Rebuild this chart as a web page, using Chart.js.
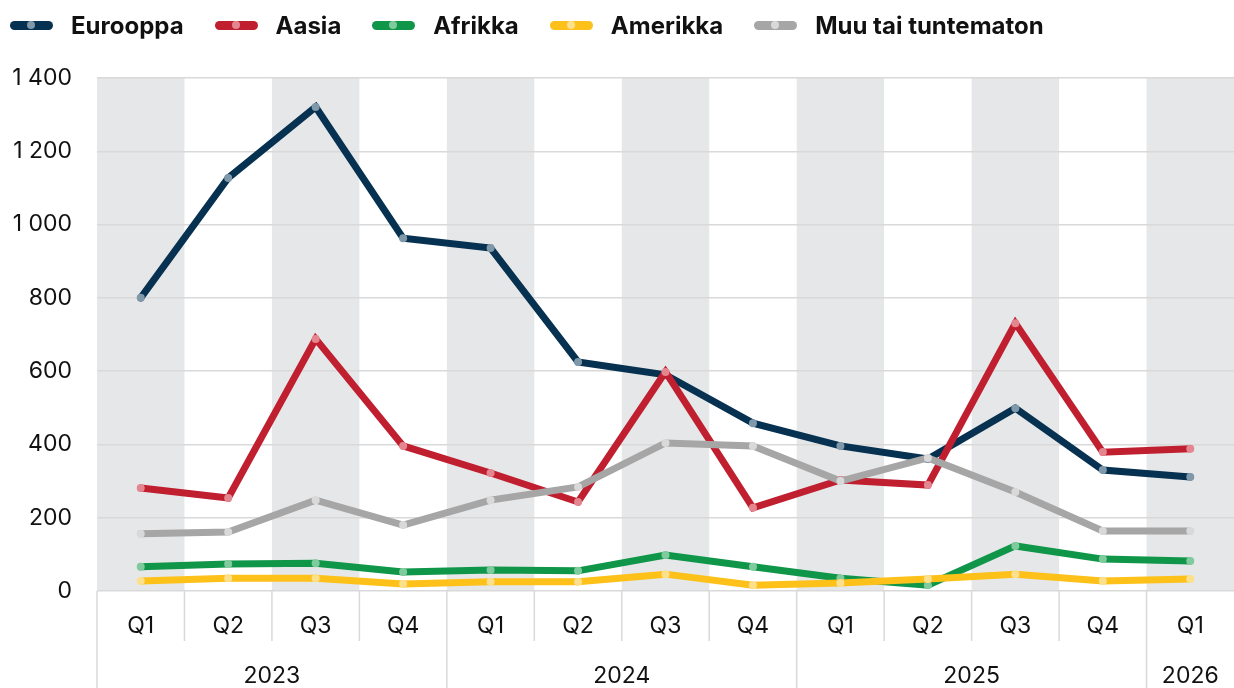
<!DOCTYPE html>
<html>
<head>
<meta charset="utf-8">
<script src="https://cdn.jsdelivr.net/npm/chart.js@4"></script>
<style>
	html, body { margin: 0; padding: 0; background: #fff; overflow: hidden; }
	#wrap { position: relative; width: 1234px; height: 688px; overflow: hidden; }
	#legend {
		position: absolute; left: 10px; top: 10px; height: 30px;
		display: flex; align-items: center;
		font-family: Inter, Roboto, sans-serif; font-weight: 700; font-size: 24px; color: #111;
	}
	.item { display: flex; align-items: center; margin-right: 31px; }
	.mark { position: relative; width: 43px; height: 9px; border-radius: 5px; margin-right: 18px; }
	.mark i { position: absolute; left: 17px; top: 0.5px; width: 8px; height: 8px; border-radius: 50%; }
	canvas { position: absolute; left: 0; top: 0; }
</style>
</head>
<body>
<div id="wrap">
	<canvas id="chart" width="1238" height="688"></canvas>
	<div id="legend"></div>
</div>
<script>
const quarters = ["Q1", "Q2", "Q3", "Q4", "Q1", "Q2", "Q3", "Q4", "Q1", "Q2", "Q3", "Q4", "Q1"];
const years = ["2023", "2024", "2025", "2026"];
const yearSpans = [4, 4, 4, 1];

const eurooppa = [800, 1127, 1321, 963, 936, 625, 590, 458, 396, 360, 499, 330, 311];
const aasia = [281, 254, 688, 396, 322, 243, 598, 227, 303, 289, 731, 379, 388];
const afrikka = [66, 74, 76, 52, 57, 55, 98, 66, 35, 16, 123, 87, 82];
const amerikka = [27, 35, 35, 19, 25, 25, 46, 16, 22, 33, 46, 27, 33];
const muu = [156, 161, 248, 180, 248, 284, 404, 396, 300, 363, 270, 164, 164];

const FONT = "Inter, Roboto, sans-serif";
const GRID = "#d9d9d9";

const series = [
	{ label: "Eurooppa", data: eurooppa, color: "#063150", dot: "#7f98aa", order: 5 },
	{ label: "Aasia", data: aasia, color: "#c01f2f", dot: "#e3868f", order: 4 },
	{ label: "Afrikka", data: afrikka, color: "#0f9649", dot: "#80cb9d", order: 3 },
	{ label: "Amerikka", data: amerikka, color: "#fdc119", dot: "#fde08c", order: 2 },
	{ label: "Muu tai tuntematon", data: muu, color: "#a6a6a6", dot: "#d9d9d9", order: 1 },
];

// legend (html)
const legendEl = document.getElementById("legend");
series.forEach((s) => {
	const item = document.createElement("div");
	item.className = "item";
	item.innerHTML = `<span class="mark" style="background:${s.color}"><i style="background:${s.dot}"></i></span><span>${s.label}</span>`;
	legendEl.appendChild(item);
});

// harmaat raidat, erottimet ja vuosiotsikot
const decorPlugin = {
	id: "decor",
	beforeDraw(chart) {
		const { ctx, chartArea, scales } = chart;
		const x = scales.x;
		const w = x.getPixelForValue(1) - x.getPixelForValue(0);
		ctx.save();
		ctx.fillStyle = "#e6e7e9";
		quarters.forEach((q, i) => {
			if (i % 2 === 0) {
				const cx = x.getPixelForValue(i);
				ctx.fillRect(cx - w / 2, chartArea.top, w, chartArea.bottom - chartArea.top);
			}
		});
		ctx.restore();
	},
	afterDraw(chart) {
		const { ctx, chartArea, scales } = chart;
		const x = scales.x;
		const w = x.getPixelForValue(1) - x.getPixelForValue(0);
		ctx.save();
		ctx.strokeStyle = GRID;
		ctx.lineWidth = 1.5;
		const yearStarts = [];
		let acc = 0;
		yearSpans.forEach((n) => { yearStarts.push(acc); acc += n; });
		for (let i = 0; i < quarters.length; i++) {
			const bx = x.getPixelForValue(i) - w / 2;
			const isYear = yearStarts.includes(i);
			ctx.beginPath();
			ctx.moveTo(bx, chartArea.bottom);
			ctx.lineTo(bx, isYear ? chart.height : chartArea.bottom + 50);
			ctx.stroke();
		}
		ctx.fillStyle = "#111";
		ctx.font = `23px ${FONT}`;
		ctx.textAlign = "center";
		ctx.textBaseline = "middle";
		years.forEach((yr, k) => {
			const a = x.getPixelForValue(yearStarts[k]);
			const b = x.getPixelForValue(yearStarts[k] + yearSpans[k] - 1);
			ctx.fillText(yr, (a + b) / 2, chartArea.bottom + 85);
		});
		ctx.restore();
	},
};

new Chart(document.getElementById("chart").getContext("2d"), {
	type: "line",
	data: {
		labels: quarters,
		datasets: series.map((s) => ({
			label: s.label,
			data: s.data,
			borderColor: s.color,
			backgroundColor: s.color,
			borderWidth: 7,
			borderCapStyle: "round",
			tension: 0,
			pointRadius: 4,
			pointBorderWidth: 0,
			pointBackgroundColor: s.dot,
			order: s.order,
		})),
	},
	options: {
		responsive: false,
		animation: false,
		layout: { padding: { top: 78, right: 0, left: 0, bottom: 0 } },
		plugins: { legend: { display: false }, tooltip: { enabled: false } },
		scales: {
			x: {
				offset: true,
				grid: { display: false, drawTicks: false },
				border: { display: false },
				ticks: { padding: 21, color: "#111", font: { family: FONT, size: 23 } },
				afterFit: (s) => { s.height = 97; },
			},
			y: {
				min: 0,
				max: 1400,
				grid: { color: GRID, lineWidth: 1.5, drawTicks: false },
				border: { display: false },
				ticks: {
					stepSize: 200,
					padding: 25,
					color: "#111",
					font: { family: FONT, size: 23 },
					callback: (v) => String(v).replace(/\B(?=(\d{3})+(?!\d))/g, " "),
				},
				afterFit: (s) => { s.width = 97; },
			},
		},
	},
	plugins: [decorPlugin],
});
</script>
</body>
</html>
